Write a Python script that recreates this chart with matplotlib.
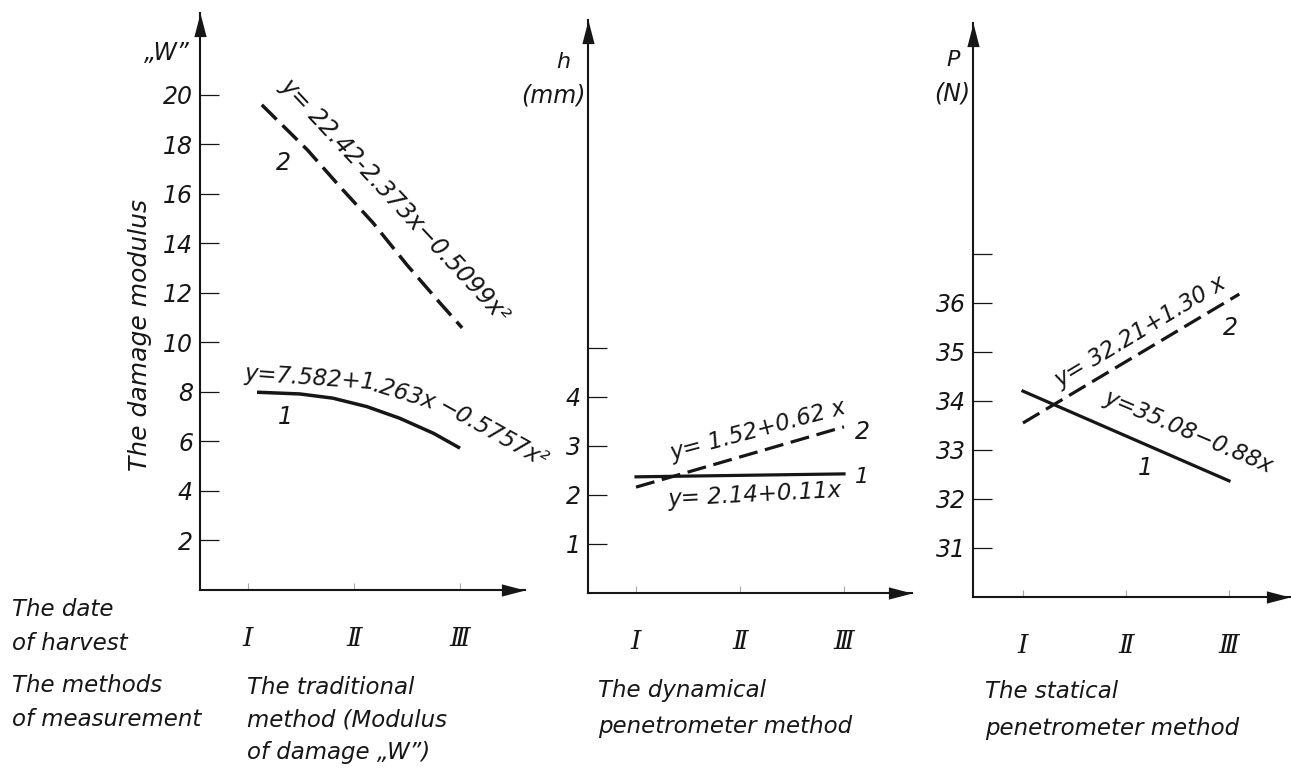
import matplotlib
matplotlib.use('Agg')
import matplotlib.pyplot as plt

W, H = 1291, 770

# date of harvest
harvest = ['Ⅰ', 'Ⅱ', 'Ⅲ']
harvest_x = [1, 2, 3]

# traditional method, modulus of damage "W"
trad_x1 = [1.085, 1.49, 1.80, 2.12, 2.43, 2.75, 3.0]
trad_w1 = [7.99, 7.92, 7.75, 7.41, 6.94, 6.33, 5.73]
trad_x2 = [1.13, 1.56, 1.87, 2.18, 2.50, 2.81, 3.02]
trad_w2 = [19.60, 17.78, 16.28, 14.83, 13.13, 11.60, 10.59]

# dynamical penetrometer, h (mm)
dyn_x = [1.0, 3.0]
dyn_h1 = [2.37, 2.43]
dyn_h2 = [2.16, 3.39]

# statical penetrometer, P (N)
stat_x1 = [1.0, 3.0]
stat_p1 = [34.2, 32.37]
stat_x2 = [1.0, 3.1]
stat_p2 = [33.55, 36.18]

ticks_w = [2, 4, 6, 8, 10, 12, 14, 16, 18, 20]
ticks_h = [1, 2, 3, 4, 5]
labels_h = ['1', '2', '3', '4', '']
ticks_p = [31, 32, 33, 34, 35, 36, 37]
labels_p = ['31', '32', '33', '34', '35', '36', '']

plt.rcParams['font.family'] = ['DejaVu Sans']
plt.rcParams['font.style'] = 'oblique'
ink = '#161616'

fig = plt.figure(figsize=(W / 100, H / 100), dpi=100)
fig.patch.set_facecolor('white')

up = [(0, 0), (-0.26, -1), (0.26, -1), (0, 0)]
right = [(0, 0), (-1, 0.26), (-1, -0.26), (0, 0)]


def panel(l, t, r, b, xlim, ylim, yt, yl):
    ax = fig.add_axes([l / W, 1 - b / H, (r - l) / W, (b - t) / H])
    ax.set_xlim(xlim)
    ax.set_ylim(ylim)
    for s in ['top', 'right']:
        ax.spines[s].set_visible(False)
    for s in ['left', 'bottom']:
        ax.spines[s].set_linewidth(1.5)
        ax.spines[s].set_color(ink)
    ax.set_yticks(yt)
    ax.set_yticklabels(yl, fontsize=17, color=ink)
    ax.tick_params(axis='y', direction='in', length=14, width=0.9, pad=5, colors=ink)
    ax.set_xticks(harvest_x)
    ax.set_xticklabels(harvest, fontsize=19, family=['DejaVu Serif', 'DejaVu Sans'], color=ink)
    ax.tick_params(axis='x', direction='in', length=5, width=0.8, pad=26, color='0.65')
    ax.plot([0], [1], transform=ax.transAxes, marker=up, ms=34, color=ink, mew=0, clip_on=False, ls='')
    ax.plot([1], [0], transform=ax.transAxes, marker=right, ms=34, color=ink, mew=0, clip_on=False, ls='')
    ax.patch.set_alpha(0)
    return ax


def ftext(x, y, s, **kw):
    kw.setdefault('fontsize', 16.5)
    kw.setdefault('color', ink)
    fig.text(x / W, 1 - y / H, s, **kw)


def eq(x, y, s, rot, size=16.5):
    ftext(x, y, s, rotation=rot, rotation_mode='anchor', ha='left', va='baseline', fontsize=size)


dash = (6, 2.4)

ax1 = panel(200, 13, 525, 590, (0.547, 3.613), (0, 23.31), ticks_w, [str(v) for v in ticks_w])
ax1.plot(trad_x1, trad_w1, color=ink, lw=2.5, solid_capstyle='butt')
ax1.plot(trad_x2, trad_w2, color=ink, lw=2.5, dashes=dash)

ax2 = panel(588, 20, 912, 593, (0.538, 3.654), (0, 11.69), ticks_h, labels_h)
ax2.plot(dyn_x, dyn_h1, color=ink, lw=2.3)
ax2.plot(dyn_x, dyn_h2, color=ink, lw=2.3, dashes=dash)

ax3 = panel(973, 23, 1290, 597, (0.515, 3.592), (30, 41.71), ticks_p, labels_p)
ax3.plot(stat_x1, stat_p1, color=ink, lw=2.3)
ax3.plot(stat_x2, stat_p2, color=ink, lw=2.3, dashes=dash)

# axis titles
ftext(167, 53, '„W”', ha='center', va='center', fontsize=17)
ftext(140, 335, 'The damage modulus', ha='center', va='center', rotation=90, fontsize=18)
ftext(563, 62, 'h', ha='center', va='center', fontsize=16)
ftext(553, 96, '(mm)', ha='center', va='center', fontsize=17)
ftext(953, 60, 'P', ha='center', va='center', fontsize=16)
ftext(952, 94, '(N)', ha='center', va='center', fontsize=17)

# regression equations and curve numbers
eq(279, 87, 'y= 22.42-2.373x−0.5099x²', -47, 17)
eq(244, 380, 'y=7.582+1', -4)
eq(372, 391, '.263x', -17)
eq(437, 410, '−0.5757x²', -29)
ftext(283, 163, '2', ha='center', va='center', fontsize=17)
ftext(285, 417, '1', ha='center', va='center', fontsize=17)

eq(672, 460, 'y= 1.52+0.62 x', 15, 16.5)
eq(668, 506, 'y= 2.14+0.11x', 3, 16.5)
ftext(862, 432, '2', ha='center', va='center', fontsize=17)
ftext(862, 477, '1', ha='center', va='center', fontsize=16)

eq(1060, 388, 'y= 32.21+1.30 x', 31)
eq(1103, 402, 'y=35.08−0.88x', -23)
ftext(1230, 328, '2', ha='center', va='center', fontsize=17)
ftext(1145, 468, '1', ha='center', va='center', fontsize=17)

# captions under the axes
ftext(12, 610, 'The date', va='center')
ftext(12, 643, 'of harvest', va='center')
ftext(12, 685, 'The methods', va='center')
ftext(12, 720, 'of measurement', va='center')

ftext(247, 687, 'The traditional', va='center')
ftext(247, 720, 'method (Modulus', va='center')
ftext(247, 753, 'of damage „W”)', va='center')

ftext(598, 690, 'The dynamical', va='center')
ftext(598, 727, 'penetrometer method', va='center')

ftext(985, 692, 'The statical', va='center')
ftext(985, 728, 'penetrometer method', va='center')

fig.savefig('out.png', dpi=100, facecolor='white')
